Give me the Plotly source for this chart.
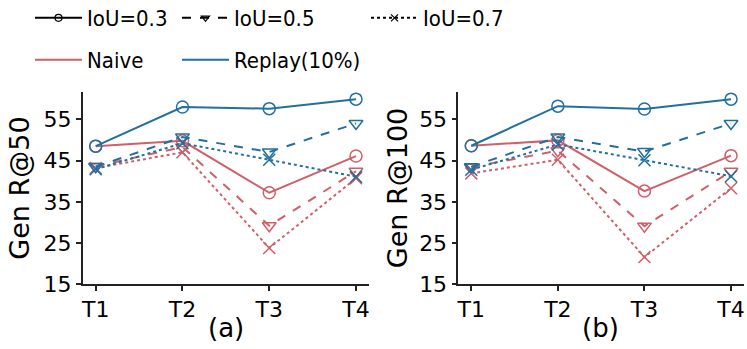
import plotly.graph_objects as go

# Tasks on the x axis
tasks = ["T1", "T2", "T3", "T4"]

# Generalisation recall @50 (panel a)
naive_r50_iou03 = [48.5, 49.8, 37.2, 46.1]
naive_r50_iou05 = [43.6, 48.3, 29.2, 42.4]
naive_r50_iou07 = [43.2, 47.0, 23.8, 40.7]
replay_r50_iou03 = [48.5, 58.0, 57.6, 59.9]
replay_r50_iou05 = [43.5, 50.7, 47.1, 54.0]
replay_r50_iou07 = [42.9, 49.2, 45.2, 41.1]

# Generalisation recall @100 (panel b)
naive_r100_iou03 = [48.6, 49.9, 37.6, 46.2]
naive_r100_iou05 = [43.4, 47.4, 29.1, 42.4]
naive_r100_iou07 = [41.9, 45.2, 21.6, 38.3]
replay_r100_iou03 = [48.6, 58.2, 57.5, 59.9]
replay_r100_iou05 = [43.5, 50.7, 47.2, 54.0]
replay_r100_iou07 = [42.8, 48.9, 45.1, 41.2]

y_ticks = [15, 25, 35, 45, 55]

RED = "#cf5f69"
BLUE = "#23709f"
FONT = "DejaVu Sans"
LEGEND_FONT = "Liberation Sans Narrow, DejaVu Sans Condensed, DejaVu Sans"

W, H = 747, 349

styles = {
    "0.3": dict(dash="solid", symbol="circle-open"),
    "0.5": dict(dash="dash", symbol="triangle-down-open"),
    "0.7": dict(dash="dot", symbol="x-thin-open"),
}

fig = go.Figure()

panels = [
    ("x", "y", {
        (RED, "0.3"): naive_r50_iou03, (RED, "0.5"): naive_r50_iou05, (RED, "0.7"): naive_r50_iou07,
        (BLUE, "0.3"): replay_r50_iou03, (BLUE, "0.5"): replay_r50_iou05, (BLUE, "0.7"): replay_r50_iou07,
    }),
    ("x2", "y2", {
        (RED, "0.3"): naive_r100_iou03, (RED, "0.5"): naive_r100_iou05, (RED, "0.7"): naive_r100_iou07,
        (BLUE, "0.3"): replay_r100_iou03, (BLUE, "0.5"): replay_r100_iou05, (BLUE, "0.7"): replay_r100_iou07,
    }),
]

for xa, ya, series in panels:
    for (color, iou), vals in series.items():
        st = styles[iou]
        fig.add_trace(go.Scatter(
            x=tasks, y=vals, xaxis=xa, yaxis=ya, mode="lines+markers",
            line=dict(color=color, width=2, dash=st["dash"]),
            marker=dict(symbol=st["symbol"], size=12, color=color,
                        line=dict(color=color, width=1.5)),
            showlegend=False, hoverinfo="skip",
        ))

# Legend: line-style key (black) and method colour key, one legend per slot
# (name, colour, dash, symbol, legend id, left px, centre-y px)
legend_entries = [
    ("IoU=0.3", "black", "solid", "circle-open", "legend", 30, 18),
    ("IoU=0.5", "black", "dash", "triangle-down-open", "legend2", 177, 18),
    ("IoU=0.7", "black", "dot", "x-thin-open", "legend3", 366, 18),
    ("Naive", RED, "solid", None, "legend4", 30, 60),
    ("Replay(10%)", BLUE, "solid", None, "legend5", 177, 60),
]
legend_layout = {}
for name, color, dash, symbol, lg, lx, ly in legend_entries:
    fig.add_trace(go.Scatter(
        x=[None], y=[None], name=name, legend=lg,
        mode="lines+markers" if symbol else "lines",
        line=dict(color=color, width=2, dash=dash),
        marker=dict(symbol=symbol or "circle", size=7, color=color,
                    line=dict(color=color, width=1.2)),
    ))
    legend_layout[lg] = dict(
        x=lx / W, y=1 - ly / H, xanchor="left", yanchor="middle", orientation="h",
        font=dict(family=LEGEND_FONT, size=22, color="black"),
        bgcolor="rgba(0,0,0,0)", itemwidth=47,
    )

axis_common = dict(
    showline=True, linecolor="#222222", linewidth=1.5, mirror=False,
    ticks="outside", ticklen=5, tickwidth=1.5, tickcolor="#222222",
    showgrid=False, zeroline=False, automargin=False,
    tickfont=dict(family=FONT, size=22, color="black"),
)

fig.update_layout(
    width=W, height=H,
    margin=dict(l=0, r=0, t=0, b=0, autoexpand=False),
    paper_bgcolor="white", plot_bgcolor="white",
    font=dict(family=FONT, color="black"),
    xaxis=dict(domain=[0.1107, 0.494], anchor="y", range=[-0.15, 3.15], **axis_common),
    yaxis=dict(domain=[0.1854, 0.7372], anchor="x", range=[15, 61.7], tickvals=y_ticks,
               title=dict(text="Gen R@50", font=dict(family=FONT, size=27), standoff=6),
               **axis_common),
    xaxis2=dict(domain=[0.6135, 0.996], anchor="y2", range=[-0.15, 3.15], **axis_common),
    yaxis2=dict(domain=[0.1854, 0.7372], anchor="x2", range=[15, 61.7], tickvals=y_ticks,
                title=dict(text="Gen R@100", font=dict(family=FONT, size=27), standoff=4),
                **axis_common),
    annotations=[
        dict(text="(a)", x=0.3025, y=1 - 328 / H, xref="paper", yref="paper",
             xanchor="center", yanchor="middle",
             showarrow=False, font=dict(family=FONT, size=26)),
        dict(text="(b)", x=0.8045, y=1 - 328 / H, xref="paper", yref="paper",
             xanchor="center", yanchor="middle",
             showarrow=False, font=dict(family=FONT, size=26)),
    ],
    **legend_layout,
)

fig.write_html("out.html")
